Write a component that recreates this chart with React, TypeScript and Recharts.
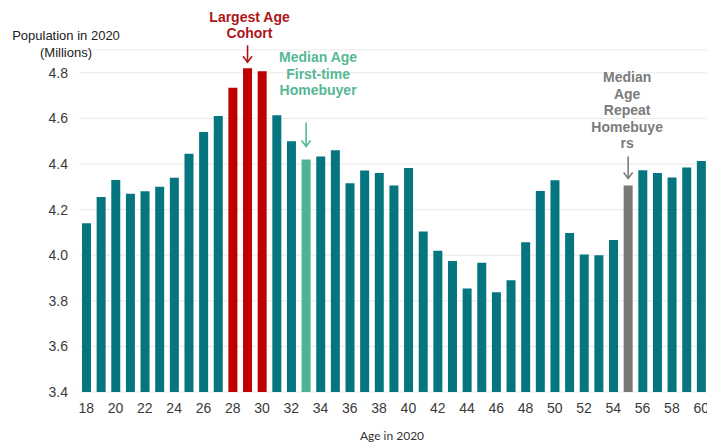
import React from 'react'
import { BarChart, Bar, XAxis, YAxis, CartesianGrid, Cell, LabelList } from 'recharts'

// age in 2020 and population (millions)
const ages = [
  18, 19, 20, 21, 22, 23, 24, 25, 26, 27, 28, 29, 30, 31, 32, 33, 34, 35, 36, 37, 38,
  39, 40, 41, 42, 43, 44, 45, 46, 47, 48, 49, 50, 51, 52, 53, 54, 55, 56, 57, 58, 59, 60,
]
const population = [
  4.14, 4.255, 4.33, 4.27, 4.28, 4.3, 4.34, 4.445, 4.54, 4.61, 4.734, 4.82, 4.807, 4.614,
  4.5, 4.42, 4.433, 4.46, 4.316, 4.372, 4.36, 4.306, 4.382, 4.104, 4.019, 3.975, 3.854,
  3.967, 3.838, 3.89, 4.057, 4.282, 4.329, 4.097, 4.003, 4.0, 4.067, 4.306, 4.373, 4.36,
  4.341, 4.385, 4.413,
]
const yTicks = [3.4, 3.6, 3.8, 4.0, 4.2, 4.4, 4.6, 4.8]

const annotations = [
  { age: 29, lines: ['Largest Age', 'Cohort'] },
  { age: 33, lines: ['Median Age', 'First-time', 'Homebuyer'] },
  { age: 55, lines: ['Median', 'Age', 'Repeat', 'Homebuye', 'rs'] },
]

const data = ages.map((age, i) => ({ age, population: population[i] }))

const TEAL = '#05767f'
const barColors: Record<number, string> = {
  28: '#c00000',
  29: '#c00000',
  30: '#c00000',
  33: '#4db393',
  55: '#787878',
}
// arrow + text placement relative to the bar top
const annStyle: Record<number, { color: string; tipGap: number; len: number; textUp: number; dx: number }> = {
  29: { color: '#ad1519', tipGap: 6, len: 17, textUp: 35, dx: 2 },
  33: { color: '#55b895', tipGap: 13, len: 24, textUp: 69, dx: 12 },
  55: { color: '#7b7b7b', tipGap: 7, len: 22, textUp: 42, dx: -1 },
}

const font = '"Liberation Sans", Arial, sans-serif'

function Annotation(props: any) {
  const { x, y, width, value } = props
  const ann = annotations.find((a) => a.age === value)
  if (!ann) return null
  const s = annStyle[value]
  const cx = x + width / 2
  const tip = y - s.tipGap
  const top = tip - s.len
  const lh = 16.6
  const last = y - s.textUp
  const n = ann.lines.length
  return (
    <g>
      <line x1={cx} y1={top} x2={cx} y2={tip} stroke={s.color} strokeWidth={1.6} />
      <polyline
        points={`${cx - 4.5},${tip - 6} ${cx},${tip} ${cx + 4.5},${tip - 6}`}
        fill="none"
        stroke={s.color}
        strokeWidth={1.6}
      />
      {ann.lines.map((line, i) => (
        <text
          key={line}
          x={cx + s.dx}
          y={last - (n - 1 - i) * lh}
          textAnchor="middle"
          dominantBaseline="central"
          fill={s.color}
          fontFamily={font}
          fontWeight="bold"
          fontSize={14}
        >
          {line}
        </text>
      ))}
    </g>
  )
}

export default function App() {
  return (
    <div style={{ position: 'absolute', left: 0, top: 0, width: 707, height: 442, overflow: 'hidden', background: '#fff' }}>
      <BarChart
        width={712}
        height={442}
        data={data}
        margin={{ top: 50, right: 3.5, left: 0, bottom: 20 }}
        barSize={9}
      >
        <CartesianGrid vertical={false} stroke="#e8e8e8" />
        <XAxis
          dataKey="age"
          interval={1}
          axisLine={false}
          tickLine={false}
          tickMargin={5}
          height={30}
          tick={{ fontSize: 14, fill: '#3a3a3a', fontFamily: font }}
        />
        <YAxis
          domain={[3.4, 4.9]}
          ticks={yTicks}
          width={79}
          axisLine={false}
          tickLine={false}
          tickMargin={5}
          tickFormatter={(v: number) => v.toFixed(1)}
          tick={{ fontSize: 14, fill: '#3a3a3a', fontFamily: font }}
        />
        <Bar dataKey="population" isAnimationActive={false}>
          {data.map((d) => (
            <Cell key={d.age} fill={barColors[d.age] ?? TEAL} />
          ))}
          <LabelList dataKey="age" content={<Annotation />} />
        </Bar>
      </BarChart>
      <div
        style={{
          position: 'absolute',
          left: 6,
          top: 28,
          width: 120,
          textAlign: 'center',
          fontFamily: font,
          fontSize: 13,
          lineHeight: '16.6px',
          color: '#222',
        }}
      >
        Population in 2020
        <br />
        (Millions)
      </div>
      <div
        style={{
          position: 'absolute',
          left: 292,
          top: 428,
          width: 200,
          textAlign: 'center',
          fontFamily: 'Lato, sans-serif',
          fontSize: 12,
          color: '#333',
        }}
      >
        Age in 2020
      </div>
    </div>
  )
}
